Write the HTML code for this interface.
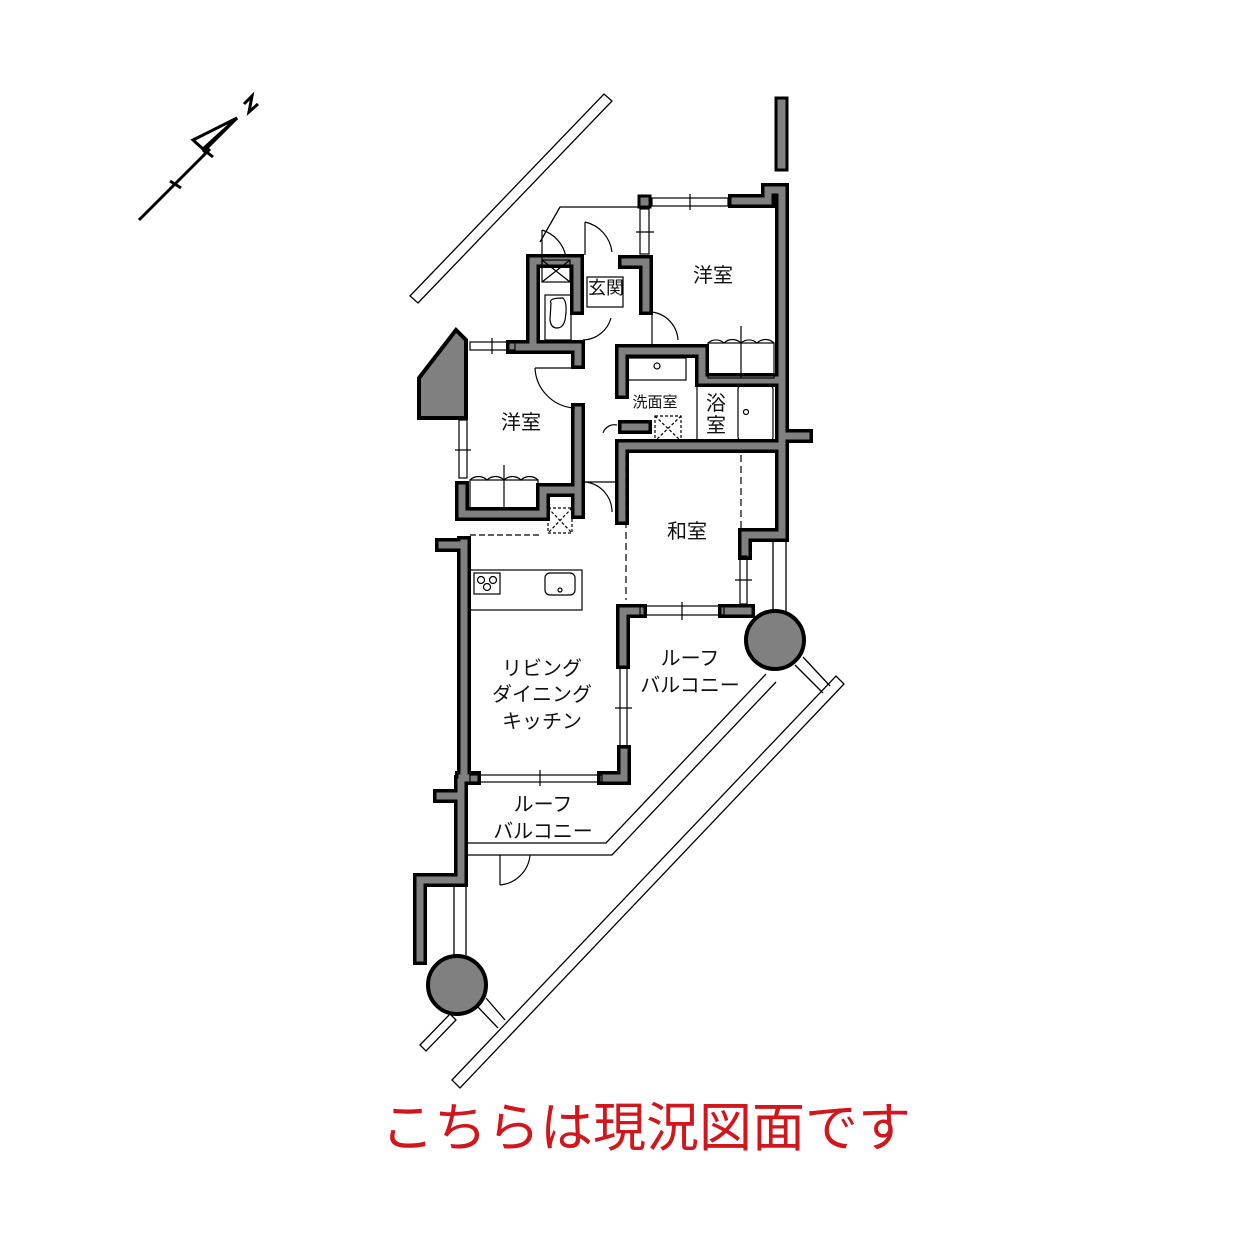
<!DOCTYPE html>
<html><head><meta charset="utf-8"><style>
html,body{margin:0;padding:0;background:#fff}
svg{display:block}
text{font-family:"Liberation Sans","Noto Sans CJK JP",sans-serif;fill:#111}
</style></head><body>
<svg width="1252" height="1252" viewBox="0 0 1252 1252" xmlns="http://www.w3.org/2000/svg">
<defs>
<g id="walls" fill="none" stroke-linejoin="miter" stroke-linecap="square">
<path d="M735,201 H768 V190 H782 V535 H745 V553"/>
<path d="M782,436 H806"/>
<path d="M521,347 H533 V261 H577 V308"/>
<path d="M513,347 H578 V362"/>
<path d="M578,410 V512"/>
<path d="M625,262 H646 V308"/>
<path d="M622,392 V351 H702 V380 H782"/>
<path d="M622,446 H782"/>
<path d="M622,450 V518"/>
<path d="M623,662 V611 H640"/>
<path d="M725,611 H748"/>
<path d="M464,543 V778"/>
<path d="M442,545 H464"/>
<path d="M462,488 V514 H543 V490 H578"/>
<path d="M604,778 H624 V752"/>
<path d="M462,778 H474"/>
<path d="M461,782 V880 H420 V958"/>
<path d="M440,796 H461"/>
<path d="M625,427 H645"/>
</g>
</defs>
<g fill="none" stroke="#000" stroke-width="1.3">
<polygon points="410,296 604,94 612,101 418,303"/>
<polygon points="452,1080 836,676 844,684 460,1088"/>
<polyline points="468,843 606,843 766,674"/>
<polyline points="468,855 612,855 776,682"/>
<polygon points="420,1045 450,1014 456,1020 426,1051"/>
<line x1="476" y1="1005" x2="498" y2="1028"/><line x1="486" y1="998" x2="505" y2="1020"/>
<line x1="795" y1="665" x2="823" y2="693"/><line x1="803" y1="657" x2="830" y2="686"/>
<line x1="454" y1="885" x2="454" y2="955"/><line x1="466" y1="885" x2="466" y2="955"/>
<line x1="773" y1="540" x2="773" y2="612"/><line x1="786" y1="540" x2="786" y2="612"/>
<polyline points="540,242 560,207 640,207"/>
</g>
<use href="#walls" stroke="#000" stroke-width="14"/>
<use href="#walls" stroke="#808080" stroke-width="7"/>
<rect x="776" y="98" width="11" height="72" fill="#808080" stroke="#000" stroke-width="3"/>
<rect x="639" y="196" width="11" height="11" fill="#808080" stroke="#000" stroke-width="3"/>
<polygon points="419,378 456,330 466,340 466,418 419,418" fill="#808080" stroke="#000" stroke-width="4"/>
<circle cx="775" cy="640" r="29" fill="#808080" stroke="#000" stroke-width="4"/>
<circle cx="457" cy="985" r="29" fill="#808080" stroke="#000" stroke-width="4"/>
<g fill="none" stroke="#000" stroke-width="1.2">
<rect x="652" y="198" width="76" height="8"/><line x1="690" y1="194" x2="690" y2="210"/>
<rect x="640" y="209" width="9" height="45"/><line x1="636" y1="232" x2="654" y2="232"/>
<rect x="470" y="342" width="45" height="8"/><line x1="492" y1="338" x2="492" y2="354"/>
<rect x="459" y="420" width="8" height="58"/><line x1="455" y1="450" x2="471" y2="450"/>
<rect x="470" y="775" width="132" height="7"/><line x1="540" y1="770" x2="540" y2="786"/>
<rect x="640" y="606" width="84" height="9"/><line x1="682" y1="602" x2="682" y2="620"/>
<rect x="620" y="668" width="7" height="80"/><line x1="615" y1="708" x2="632" y2="708"/>
<rect x="740" y="556" width="7" height="48"/><line x1="735" y1="580" x2="752" y2="580"/>
<path d="M542,230 V265 M542,230 A35,35 0 0 1 566,257"/>
<path d="M585,222 V255 M585,222 A35,35 0 0 1 612,252"/>
<path d="M611,318 A30,30 0 0 1 583,340"/>
<path d="M652,312 V345 M652,312 A30,30 0 0 1 678,340"/>
<path d="M535,368 H575 M535,368 A42,42 0 0 0 575,408"/>
<path d="M585,482 H615 M585,482 A30,30 0 0 1 612,512"/>
<path d="M603,433 A12,12 0 0 1 617,425"/>
<path d="M500,855 V885 M500,885 A33,33 0 0 0 530,855"/>
<rect x="470" y="480" width="68" height="30"/><line x1="504" y1="465" x2="504" y2="510"/>
<path d="M470,480 A12,12 0 0 1 487,480 A12,12 0 0 1 504,480 M504,480 A12,12 0 0 1 521,480 A12,12 0 0 1 538,480"/>
<rect x="708" y="343" width="66" height="35"/><line x1="741" y1="326" x2="741" y2="378"/>
<path d="M708,343 A12,12 0 0 1 724,343 A12,12 0 0 1 741,343 A12,12 0 0 1 757,343 A12,12 0 0 1 774,343"/>
<rect x="542" y="260" width="28" height="22"/><path d="M542,260 L570,282 M570,260 L542,282"/>
<rect x="587" y="277" width="36" height="30"/>
<rect x="545" y="295" width="26" height="45"/>
<path d="M551,303 Q548,298 563,298 Q568,303 565,320 Q563,328 557,328 Q551,328 550,320 Z"/>
<rect x="628" y="358" width="58" height="22"/><circle cx="657" cy="366" r="3"/>
<rect x="738" y="385" width="35" height="56" rx="4"/><circle cx="746" cy="412" r="2.5"/>
<line x1="697" y1="385" x2="697" y2="440"/>
<rect x="470" y="570" width="112" height="40"/>
<rect x="474" y="573" width="26" height="21"/>
<circle cx="481" cy="580" r="3.5"/><circle cx="493" cy="580" r="3.5"/><circle cx="487" cy="587" r="3.5"/>
<rect x="545" y="573" width="30" height="22" rx="5"/><circle cx="560" cy="590" r="2"/>
<line x1="626" y1="455" x2="626" y2="600" stroke-dasharray="7,4"/>
<line x1="741" y1="455" x2="741" y2="528" stroke-dasharray="7,4"/>
<line x1="470" y1="535" x2="540" y2="535" stroke-dasharray="6,3"/>
<rect x="548" y="508" width="24" height="25" stroke-dasharray="3,2"/>
<path d="M548,508 L572,533 M572,508 L548,533" stroke-dasharray="3,2"/>
<rect x="655" y="416" width="26" height="25" stroke-dasharray="3,2"/>
<path d="M655,416 L681,441 M681,416 L655,441" stroke-dasharray="3,2"/>
</g>
<g font-size="20">
<text x="713" y="282" text-anchor="middle">洋室</text>
<text x="521" y="429" text-anchor="middle">洋室</text>
<text x="687" y="538" text-anchor="middle">和室</text>
<text x="606" y="294" text-anchor="middle" font-size="18">玄関</text>
<text x="655" y="407" text-anchor="middle" font-size="15">洗面室</text>
<text x="716" y="410" text-anchor="middle">浴</text>
<text x="716" y="432" text-anchor="middle">室</text>
<text x="542" y="675" text-anchor="middle">リビング</text>
<text x="542" y="701" text-anchor="middle">ダイニング</text>
<text x="542" y="728" text-anchor="middle">キッチン</text>
<text x="690" y="665" text-anchor="middle">ルーフ</text>
<text x="690" y="692" text-anchor="middle">バルコニー</text>
<text x="543" y="811" text-anchor="middle">ルーフ</text>
<text x="543" y="838" text-anchor="middle">バルコニー</text>
</g>
<g stroke="#000" stroke-width="3" fill="none" stroke-linejoin="miter">
<line x1="139" y1="220" x2="210" y2="149"/>
<path d="M237,118 L193,140 L203,149 Z"/>
<path d="M237,118 L203,152"/>
<line x1="204" y1="150" x2="213" y2="157"/>
<line x1="170" y1="181" x2="181" y2="188"/>
<path d="M244,104 L252,96 L249,112 L258,104"/>
</g>
<text x="646" y="1146" text-anchor="middle" font-size="53" style="fill:#d2161c">こちらは現況図面です</text>
</svg>
</body></html>
